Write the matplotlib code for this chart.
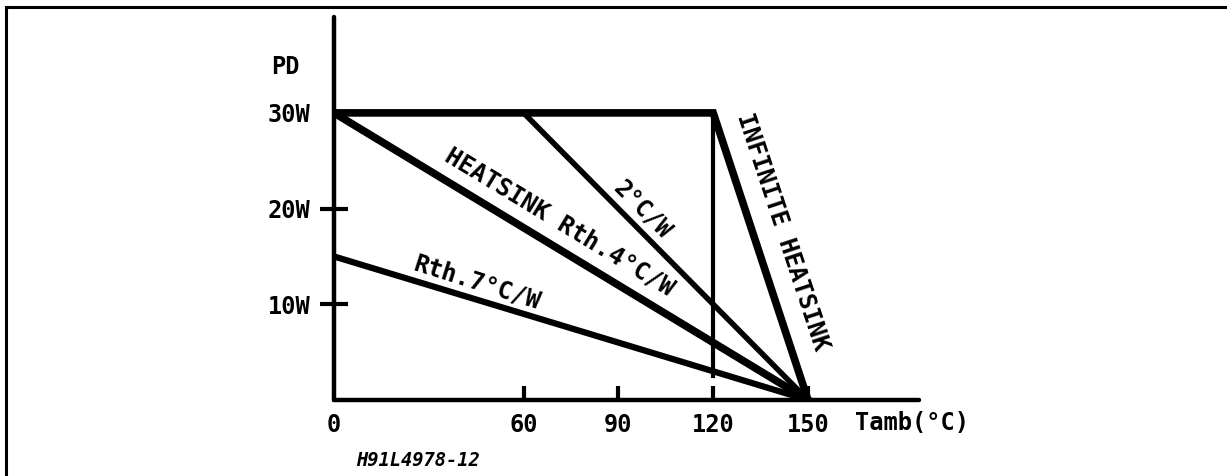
import matplotlib
matplotlib.use("Agg")
import matplotlib.pyplot as plt
from matplotlib.lines import Line2D

# derating curves, Tamb (°C) vs PD (W)
infinite_t = [0, 120, 150]
infinite_p = [30, 30, 0]
rth2_t = [60, 150]
rth2_p = [30, 0]
rth4_t = [0, 150]
rth4_p = [30, 0]
rth7_t = [0, 150]
rth7_p = [15, 0]
marker120_t = [120, 120]
marker120_p = [30, 2.5]

x_ticks = [0, 60, 90, 120, 150]
x_labels = ["0", "60", "90", "120", "150"]
y_ticks = [10, 20, 30]
y_labels = ["10W", "20W", "30W"]

FONT = "DejaVu Sans Mono"

W, H = 1227, 476
fig = plt.figure(figsize=(W / 100, H / 100), dpi=100)
# axes placed in pixels: origin (334, 400), 3.16 px/°C, 9.57 px/W
x0, y0 = 334, 400
xmax, ymax = 185, 40
ax = fig.add_axes([x0 / W, (H - y0) / H, xmax * 3.16 / W, ymax * 9.57 / H])
ax.set_xlim(0, xmax)
ax.set_ylim(0, ymax)

ax.plot(infinite_t, infinite_p, color="black", lw=5.5, solid_joinstyle="miter")
ax.plot(rth2_t, rth2_p, color="black", lw=4.0)
ax.plot(rth4_t, rth4_p, color="black", lw=5.5)
ax.plot(rth7_t, rth7_p, color="black", lw=4.5)
ax.plot(marker120_t, marker120_p, color="black", lw=3.0)

for s in ["top", "right"]:
    ax.spines[s].set_visible(False)
for s in ["left", "bottom"]:
    ax.spines[s].set_linewidth(3.2)
    ax.spines[s].set_capstyle("round")

ax.set_xticks(x_ticks)
ax.set_xticklabels(x_labels, fontfamily=FONT, fontweight="bold", fontsize=17)
ax.set_yticks(y_ticks)
ax.set_yticklabels(y_labels, fontfamily=FONT, fontweight="bold", fontsize=17)
ax.tick_params(axis="x", direction="in", length=10, width=3, pad=9)
ax.tick_params(axis="y", direction="inout", length=19.5, width=3, pad=7)
ax.xaxis.get_major_ticks()[0].tick1line.set_visible(False)
ax.yaxis.get_major_ticks()[2].tick1line.set_visible(False)

txt = dict(fontfamily=FONT, fontweight="bold", color="black",
           ha="center", va="center", rotation_mode="anchor", clip_on=False)
ax.text(71.5, 18.6, "HEATSINK Rth.4°C/W", fontsize=17.5, rotation=-31.2, **txt)
ax.text(97.5, 19.85, "2°C/W", fontsize=17, rotation=-45.2, **txt)
ax.text(45.3, 12.3, "Rth.7°C/W", fontsize=17.5, rotation=-17.5, **txt)
ax.text(142, 17.55, "INFINITE HEATSINK", fontsize=17.5, rotation=-71.7, **txt)

ax.text(-15.5, 34.8, "PD", fontsize=17, **txt)
ax.text(165, -2.4, "Tamb(°C)", fontfamily=FONT, fontweight="bold", fontsize=17,
        ha="left", va="center", clip_on=False)
ax.text(26.6, -6.3, "H91L4978-12", fontfamily=FONT, fontweight="bold",
        fontstyle="italic", fontsize=13.5, ha="center", va="center", clip_on=False)

# page frame (top and left edges)
fig.add_artist(Line2D([5.5 / W, 1], [1 - 6.5 / H, 1 - 6.5 / H], color="black", lw=2.2))
fig.add_artist(Line2D([5.5 / W, 5.5 / W], [0, 1 - 6.5 / H], color="black", lw=2.2))

fig.savefig("out.png", dpi=100)
